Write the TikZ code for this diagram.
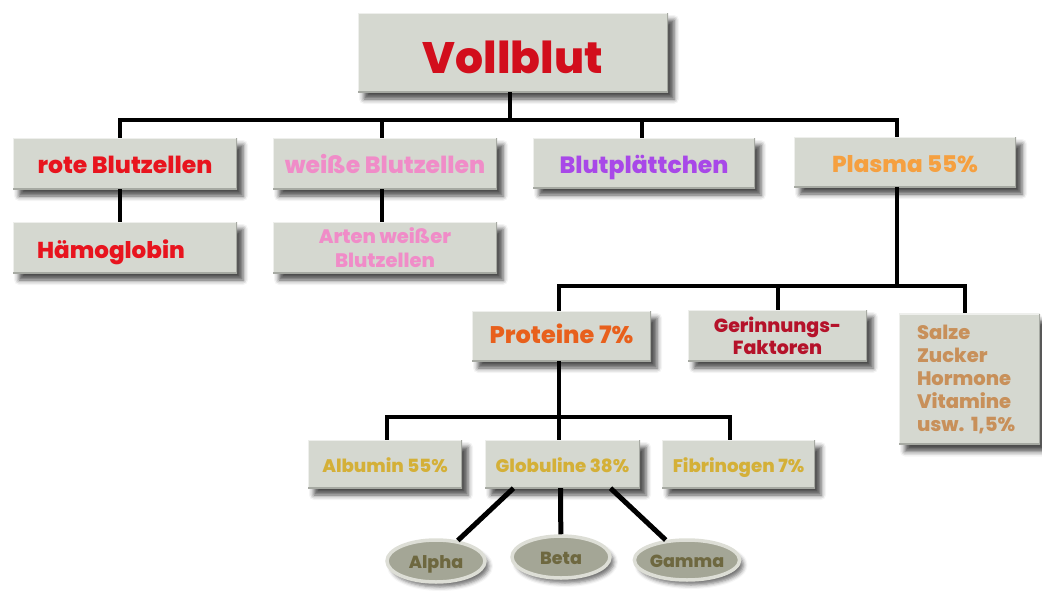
\documentclass[tikz,border=0pt]{standalone}
\usepackage{fontspec}
\setmainfont{Poppins}[BoldFont={* ExtraBold}]
\usetikzlibrary{shapes.geometric,shadows.blur}
\definecolor{boxfill}{HTML}{D5D8D0}
\definecolor{cV}{HTML}{D20E1C}
\definecolor{cRed}{HTML}{E8141E}
\definecolor{cPink}{HTML}{F08CC8}
\definecolor{cPurple}{HTML}{A848E8}
\definecolor{cOrange}{HTML}{F5A040}
\definecolor{cProt}{HTML}{E8601C}
\definecolor{cGer}{HTML}{B5122A}
\definecolor{cSalz}{HTML}{C8905A}
\definecolor{cGold}{HTML}{D4B038}
\definecolor{cEll}{HTML}{6E6840}
\definecolor{ellfill}{HTML}{A4A696}
\definecolor{ellrim}{HTML}{DDDED6}
\newcommand{\fs}[2]{\fontsize{#1}{#2}\selectfont}
\tikzset{
  box/.style={fill=boxfill, draw=none, inner sep=0pt, align=center, font=\bfseries,
    blur shadow={shadow xshift=6pt, shadow yshift=-7pt, shadow blur radius=5pt, shadow opacity=70},
    path picture={
      \draw[white!60!boxfill, line width=2.5pt] (path picture bounding box.south west) -- (path picture bounding box.north west) -- (path picture bounding box.north east);
      \draw[black!22!boxfill, line width=2.5pt] (path picture bounding box.north east) -- (path picture bounding box.south east) -- (path picture bounding box.south west);
    }},
  one/.style={text height=#1, text depth=0pt},
  oval/.style={ellipse, fill=ellfill, draw=ellrim, line width=3.5pt, inner sep=0pt,
    minimum width=98pt, minimum height=42pt, text=cEll, font=\bfseries\fs{17.5}{20},
    blur shadow={shadow xshift=4pt, shadow yshift=-5pt, shadow blur radius=4pt, shadow opacity=55}},
  conn/.style={line width=4pt, draw=black},
}
\begin{document}
\begin{tikzpicture}[x=1pt,y=-1pt]
\useasboundingbox (0,0) rectangle (1042,592);
% nodes
\node[box, one=41pt, minimum width=310pt, minimum height=79pt, text=cV, font=\bfseries\fs{44}{48}] (V) at (513,52.5) {Vollblut};
\node[box, one=19pt, minimum width=224pt, minimum height=51pt, text=cRed, font=\bfseries\fs{23.5}{26}] (rote) at (125,163.5) {rote Blutzellen};
\node[box, one=19pt, minimum width=224pt, minimum height=51pt, text=cPink, font=\bfseries\fs{23.5}{26}] (weisse) at (385,163.5) {weiße Blutzellen};
\node[box, one=20pt, minimum width=222pt, minimum height=50pt, text=cPurple, font=\bfseries\fs{23.5}{26}] (blut) at (644,163) {Blutplättchen};
\node[box, one=20pt, minimum width=222pt, minimum height=50pt, text=cOrange, font=\bfseries\fs{23}{26}] (plasma) at (905,162) {Plasma 55\%};
\node[box, one=21pt, minimum width=224pt, minimum height=51pt, text=cRed, font=\bfseries\fs{23}{26}] (haem) at (125,247.5) {Hämoglobin\hspace{28pt}};
\node[box, minimum width=224pt, minimum height=51pt, text=cPink, font=\bfseries\fs{19.5}{24}] (arten) at (385,247.5) {Arten weißer\\Blutzellen};
\node[box, one=15pt, minimum width=179pt, minimum height=50pt, text=cProt, font=\bfseries\fs{24}{26}] (prot) at (561.5,336) {Proteine 7\%};
\node[box, minimum width=179pt, minimum height=51pt, text=cGer, font=\bfseries\fs{19}{22}] (ger) at (777.5,335.5) {Gerinnungs-\\Faktoren};
\node[box, minimum width=141pt, minimum height=131pt, text width=105pt, align=left, text=cSalz, font=\bfseries\fs{19.5}{23}] (salze) at (969.5,379) {Salze\\Zucker\\Hormone\\Vitamine\\usw.\ 1,5\%};
\node[box, one=16pt, minimum width=154pt, minimum height=48pt, text=cGold, font=\bfseries\fs{18.2}{20}] (alb) at (385,464) {Albumin 55\%};
\node[box, one=16pt, minimum width=155pt, minimum height=48pt, text=cGold, font=\bfseries\fs{18.2}{20}] (glob) at (562.5,464) {Globuline 38\%};
\node[box, one=16pt, minimum width=153pt, minimum height=48pt, text=cGold, font=\bfseries\fs{18.2}{20}] (fib) at (738.5,464) {Fibrinogen 7\%};
\node[oval, one=14pt] (alpha) at (436,561) {Alpha};
\node[oval, one=15pt] (beta) at (561,557) {Beta};
\node[oval, one=14pt, minimum height=40pt, minimum width=99pt] (gamma) at (687,560) {Gamma};
% buses
\coordinate (bus1) at (510,120);
\coordinate (bus2) at (897,286);
\coordinate (bus3) at (559,417);
\coordinate (dw) at ([xshift=-3pt]weisse.north);
\coordinate (db) at ([xshift=-2pt]blut.north);
% connectors
\draw[conn] ([xshift=-3pt]V.south) -- (bus1);
\draw[conn] ([xshift=-5pt]rote.north) |- (bus1) -| ([xshift=-8pt]plasma.north);
\draw[conn] (dw) -- (dw |- bus1);
\draw[conn] (db) -- (db |- bus1);
\draw[conn] ([xshift=-5pt]rote.south) -- ([xshift=-5pt]haem.north);
\draw[conn] ([xshift=-3pt]weisse.south) -- ([xshift=-3pt]arten.north);
\draw[conn] ([xshift=-8pt]plasma.south) -- (bus2);
\draw[conn] ([xshift=-2.5pt]prot.north) |- (bus2) -| ([xshift=-4.5pt]salze.north);
\draw[conn] (ger.north) -- (ger.north |- bus2);
\draw[conn] ([xshift=-2.5pt]prot.south) -- ([xshift=-3.5pt]glob.north);
\draw[conn] ([xshift=2pt]alb.north) |- (bus3) -| ([xshift=-8.5pt]fib.north);
\draw[conn, line width=5pt] ([xshift=-49pt]glob.south) -- (alpha);
\draw[conn, line width=5pt] ([xshift=-2pt]glob.south) -- (beta);
\draw[conn, line width=5pt] ([xshift=48pt]glob.south) -- (gamma);
\end{tikzpicture}
\end{document}
